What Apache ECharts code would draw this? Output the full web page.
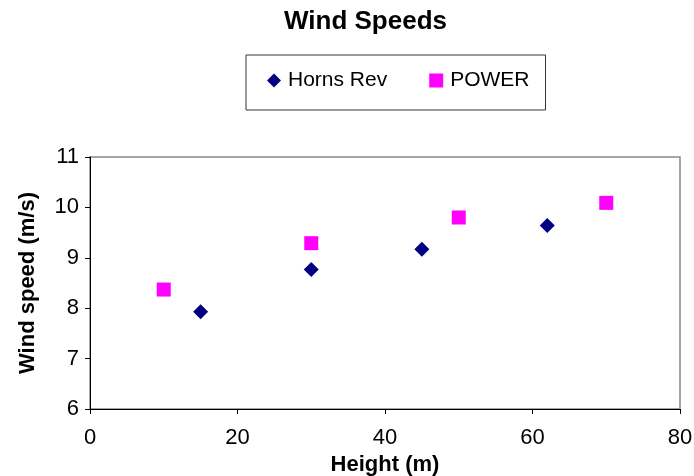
<!DOCTYPE html>
<html>
<head>
<meta charset="utf-8">
<script src="https://cdn.jsdelivr.net/npm/echarts@6/dist/echarts.min.js"></script>
<style>
html,body{margin:0;padding:0;background:#fff;}
#chart{width:694px;height:476px;}
</style>
</head>
<body>
<div id="chart"></div>
<script>
var hornsRevHeight = [15, 30, 45, 62];
var hornsRevSpeed = [7.93, 8.77, 9.17, 9.64];
var powerHeight = [10, 30, 50, 70];
var powerSpeed = [8.37, 9.29, 9.80, 10.09];
var seriesNames = ['Horns Rev', 'POWER'];

function pairs(xs, ys) { return xs.map(function (x, i) { return [x, ys[i]]; }); }

var FONT = "'Liberation Sans', Arial, sans-serif";
var chart = echarts.init(document.getElementById('chart'), null, { renderer: 'canvas' });
chart.setOption({
  animation: false,
  backgroundColor: '#fff',
  title: {
    text: 'Wind Speeds',
    left: 279, top: 4,
    textStyle: { fontFamily: FONT, fontSize: 26, fontWeight: 'bold', color: '#000' }
  },
  legend: {
    data: [{ name: seriesNames[0], icon: 'diamond' }, { name: seriesNames[1], icon: 'rect' }],
    left: 246, top: 55,
    padding: [15, 16, 19, 21],
    itemGap: 42,
    itemWidth: 14, itemHeight: 14,
    borderColor: '#333', borderWidth: 1,
    textStyle: { fontFamily: FONT, fontSize: 21, color: '#000', padding: [0, 0, 0, 2] }
  },
  grid: {
    left: 90, top: 157, right: 14, bottom: 67,
    show: true, borderColor: '#888', borderWidth: 1.5,
    containLabel: false, outerBoundsMode: 'none'
  },
  xAxis: {
    type: 'value', min: 0, max: 80, interval: 20,
    name: 'Height (m)', nameLocation: 'middle', nameGap: 41,
    nameTextStyle: { fontFamily: FONT, fontSize: 22, fontWeight: 'bold', color: '#000' },
    axisLine: { show: true, onZero: false, lineStyle: { color: '#000', width: 1 } },
    axisTick: { show: true, length: 5, lineStyle: { color: '#000' } },
    axisLabel: { fontFamily: FONT, fontSize: 22, color: '#000', margin: 18 },
    splitLine: { show: false }
  },
  yAxis: {
    type: 'value', min: 6, max: 11, interval: 1,
    name: 'Wind speed (m/s)', nameLocation: 'middle', nameGap: 51,
    nameTextStyle: { fontFamily: FONT, fontSize: 22, fontWeight: 'bold', color: '#000' },
    axisLine: { show: true, onZero: false, lineStyle: { color: '#000', width: 1 } },
    axisTick: { show: true, length: 5, lineStyle: { color: '#000' } },
    axisLabel: { fontFamily: FONT, fontSize: 22, color: '#000', margin: 11 },
    splitLine: { show: false }
  },
  series: [
    {
      name: seriesNames[0], type: 'scatter', symbol: 'diamond', symbolSize: 15,
      itemStyle: { color: '#000080', opacity: 1 },
      data: pairs(hornsRevHeight, hornsRevSpeed)
    },
    {
      name: seriesNames[1], type: 'scatter', symbol: 'rect', symbolSize: 14,
      itemStyle: { color: '#FF00FF', opacity: 1 },
      data: pairs(powerHeight, powerSpeed)
    }
  ]
});
</script>
</body>
</html>
